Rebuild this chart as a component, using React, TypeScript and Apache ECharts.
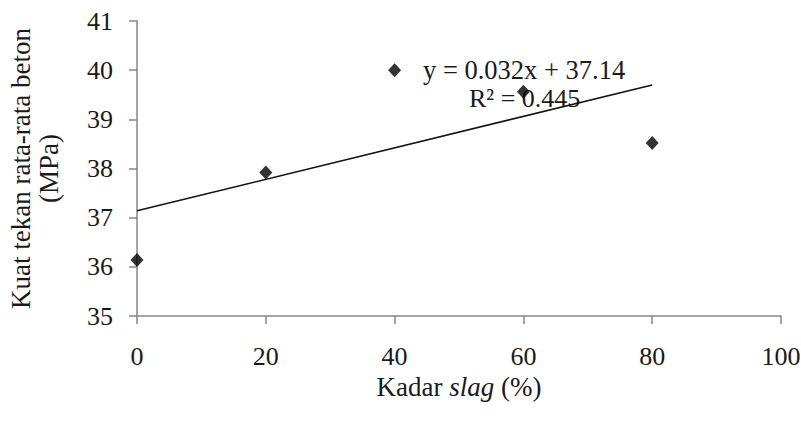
import React, { useEffect, useRef } from "react";
import * as echarts from "echarts";

const slagPercent = [0, 20, 40, 60, 80];
const strengthMPa = [36.14, 37.92, 40.0, 39.56, 38.52];
const trendSlope = 0.032;
const trendIntercept = 37.14;
const rSquared = 0.445;
const xTicks = [0, 20, 40, 60, 80, 100];
const yTicks = [35, 36, 37, 38, 39, 40, 41];

export default function App() {
  const ref = useRef<HTMLDivElement>(null);
  useEffect(() => {
    if (!ref.current) return;
    const chart = echarts.init(ref.current, null, { renderer: "svg" });
    const font = "Liberation Serif";
    const xMin = slagPercent[0];
    const xMax = slagPercent[slagPercent.length - 1];
    const trend = [
      [xMin, trendIntercept + trendSlope * xMin],
      [xMax, trendIntercept + trendSlope * xMax],
    ];
    chart.setOption({
      animation: false,
      backgroundColor: "#ffffff",
      grid: { left: 137, top: 21, right: 20, bottom: 107, containLabel: false, outerBoundsMode: "none" },
      xAxis: {
        type: "value",
        min: xTicks[0],
        max: xTicks[xTicks.length - 1],
        interval: 20,
        name: "Kadar {i|slag} (%)",
        nameLocation: "middle",
        nameGap: 50,
        nameTextStyle: {
          fontFamily: font,
          fontSize: 27,
          color: "#1a1a1a",
          rich: { i: { fontFamily: font, fontSize: 27, fontStyle: "italic", color: "#1a1a1a" } },
        },
        axisLine: { show: true, lineStyle: { color: "#868686", width: 1.5 } },
        axisTick: { show: true, inside: false, length: 8, lineStyle: { color: "#868686", width: 1.5 } },
        axisLabel: { fontFamily: font, fontSize: 26, color: "#1a1a1a", margin: 27 },
        splitLine: { show: false },
      },
      yAxis: {
        type: "value",
        min: yTicks[0],
        max: yTicks[yTicks.length - 1],
        interval: 1,
        name: "Kuat tekan rata-rata beton\n(MPa)",
        nameLocation: "middle",
        nameRotate: 90,
        nameGap: 74,
        nameTextStyle: { fontFamily: font, fontSize: 27, color: "#1a1a1a", lineHeight: 28, align: "center" },
        axisLine: { show: true, lineStyle: { color: "#868686", width: 1.5 } },
        axisTick: { show: true, inside: false, length: 8, lineStyle: { color: "#868686", width: 1.5 } },
        axisLabel: { fontFamily: font, fontSize: 26, color: "#1a1a1a", margin: 24 },
        splitLine: { show: false },
      },
      series: [
        {
          type: "line",
          data: trend,
          symbol: "none",
          lineStyle: { color: "#111111", width: 1.6 },
          silent: true,
          z: 2,
        },
        {
          type: "scatter",
          data: slagPercent.map((x, i) => [x, strengthMPa[i]]),
          symbol: "diamond",
          symbolSize: [13, 14],
          itemStyle: { color: "#000000" },
          z: 3,
        },
      ],
      graphic: [
        {
          type: "text",
          left: 423,
          top: 56,
          style: {
            text: `y = ${trendSlope}x + ${trendIntercept}`,
            fontFamily: font,
            fontSize: 26.5,
            fill: "#1a1a1a",
          },
        },
        {
          type: "text",
          left: 469,
          top: 85,
          style: {
            text: `R² = ${rSquared}`,
            fontFamily: font,
            fontSize: 26,
            fill: "#1a1a1a",
          },
        },
      ],
    });
    return () => chart.dispose();
  }, []);
  return (
    <div
      ref={ref}
      style={{ position: "absolute", left: 0, top: 0, width: 801, height: 423 }}
    />
  );
}
